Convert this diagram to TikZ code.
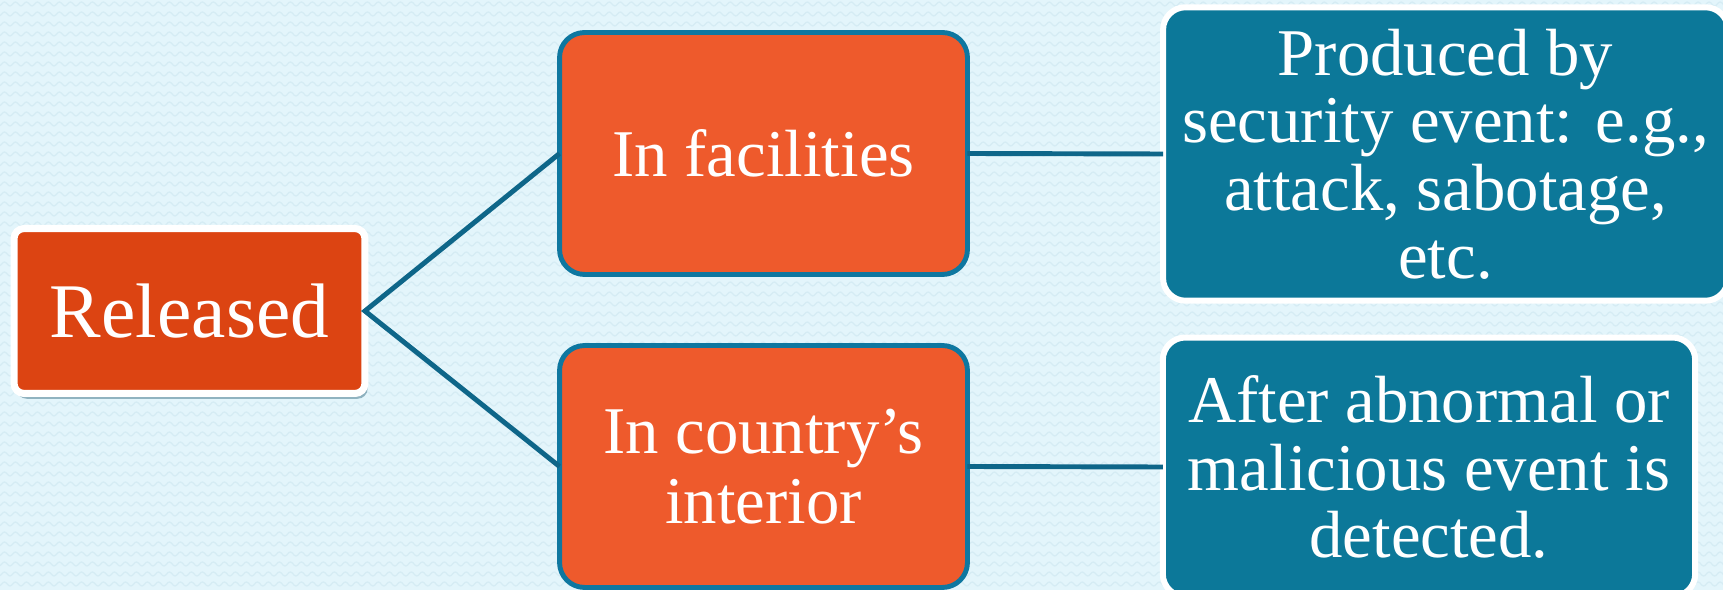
\documentclass[tikz,border=0pt]{standalone}
\usepackage{fontspec}
\setmainfont{Liberation Serif}
\usepackage{tikz}
\usepackage{xcolor}
\usetikzlibrary{shapes, positioning, shadows, decorations.pathmorphing}

\definecolor{bgcol}{HTML}{E3F5FB}
\definecolor{wavecol}{HTML}{D5ECF4}
\definecolor{rootcol}{HTML}{DC4412}
\definecolor{midcol}{HTML}{EE5A2C}
\definecolor{midedge}{HTML}{0E77A0}
\definecolor{leafcol}{HTML}{0C7899}
\definecolor{linkcol}{HTML}{0E6689}
\definecolor{shadowcol}{HTML}{6E97A8}

\tikzset{
    rootbox/.style={rectangle, rounded corners=0.2cm, draw=white, line width=4pt, fill=rootcol,
        text=white, inner sep=0pt, outer sep=0pt, minimum width=7.02cm, minimum height=3.3cm,
        font=\fontsize{44}{46}\selectfont,
        drop shadow={shadow xshift=1.5pt, shadow yshift=-3pt, fill=shadowcol, opacity=0.7}},
    midbox/.style={rectangle, rounded corners=0.5cm, draw=midedge, line width=2.8pt, fill=midcol,
        text=white, align=center, inner sep=0pt, outer sep=0pt, minimum width=8.16cm, minimum height=4.84cm,
        font=\fontsize{38}{40}\selectfont},
    leafbox/.style={rectangle, rounded corners=0.45cm, draw=white, line width=3.4pt, fill=leafcol,
        text=white, align=center, inner sep=0pt, outer sep=0pt,
        font=\fontsize{38}{38.5}\selectfont},
    link/.style={draw=linkcol, line width=2.8pt}
}

\begin{document}
\begin{tikzpicture}[x=0.02cm, y=-0.02cm]
        \useasboundingbox (0,0) rectangle (1723,590);
        \clip (0,0) rectangle (1723,590);
        \fill[bgcol] (0,0) rectangle (1723,590);
        \foreach \r in {4,14,...,594}
            \draw[wavecol, line width=0.7pt, decorate, decoration={snake, segment length=0.22cm, amplitude=0.04cm}] (-10,\r) -- (1740,\r);

        \node[rootbox] (rel) at (189.5, 311) {Released};
        \node[midbox] (fac) at (763.5, 153.5) {In facilities};
        \node[midbox] (cty) at (763.5, 466.5) {In country’s\\interior};
        \node[leafbox, minimum width=11.3cm, minimum height=5.87cm] (sec) at (1445.5, 154) {Produced by\\security event: e.g.,\\attack, sabotage,\\etc.};
        \node[leafbox, minimum width=10.65cm, minimum height=5.18cm] (det) at (1429, 467) {After abnormal or\\malicious event is\\detected.};

        \draw[link] (fac.west) -- (rel.east) -- (cty.west);
        \draw[link] (fac.east) -- (sec.west)
            (cty.east) -- (det.west);
    \end{tikzpicture}
\end{document}
